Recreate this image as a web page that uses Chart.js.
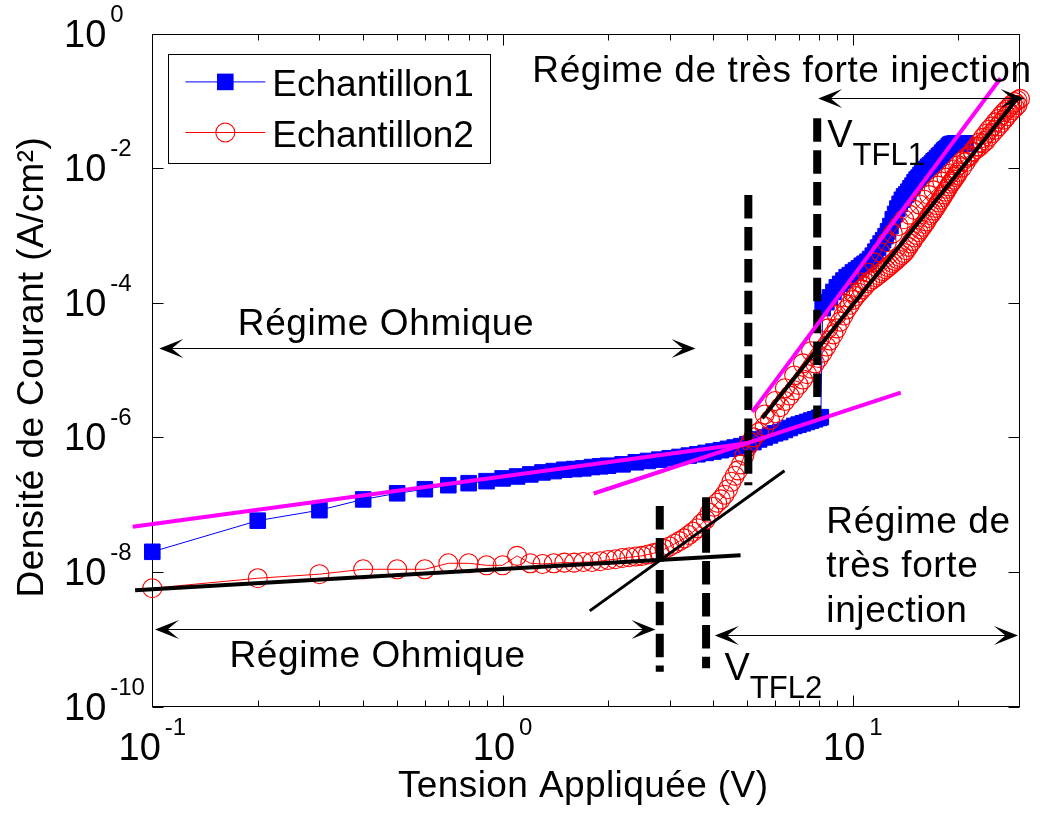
<!DOCTYPE html>
<html lang="fr">
<head>
<meta charset="utf-8">
<title>Densité de courant en fonction de la tension appliquée</title>
<script src="https://cdn.jsdelivr.net/npm/chart.js@4/dist/chart.umd.min.js"></script>
<style>
  html, body { margin: 0; padding: 0; background: #fff; }
  #wrap { width: 1040px; height: 814px; }
  canvas { display: block; }
</style>
</head>
<body>
<div id="wrap"><canvas id="jv" width="1040" height="814"></canvas></div>
<script>
// Echantillon1 : tension appliquée (V) et densité de courant (A/cm²)
const ech1V = [0.1, 0.2, 0.3, 0.4, 0.5, 0.6, 0.7, 0.8, 0.9, 1.0, 1.1, 1.2, 1.3, 1.4, 1.5, 1.6, 1.7, 1.8, 1.9, 2.0,
  2.2, 2.4, 2.6, 2.8, 3.0, 3.2, 3.4, 3.6, 3.8, 4.0, 4.2, 4.4, 4.6, 4.8, 5.0, 5.2, 5.4, 5.6, 5.8, 6.0,
  6.2, 6.4, 6.6, 6.8, 7.0, 7.2, 7.4, 7.6, 7.8, 8.0, 8.1,
  8.2, 8.4, 8.6, 8.8, 9.0, 9.2, 9.4, 9.6, 9.8, 10.0, 10.2, 10.4, 10.6, 10.8, 11.0,
  11.2, 11.4, 11.6, 11.8, 12.0, 12.2, 12.4, 12.6, 12.8, 13.0, 13.2, 13.4, 13.6, 13.8, 14.0,
  14.2, 14.4, 14.6, 14.8, 15.0, 15.2, 15.4, 15.6, 15.8, 16.0, 16.2, 16.4, 16.6, 16.8, 17.0,
  17.2, 17.4, 17.6, 17.8, 18.0, 18.2, 18.4, 18.6, 18.8, 19.0, 19.2, 19.4, 19.6, 19.8, 20.0,
  20.2, 20.4, 20.6, 20.8, 21.0];
const ech1J = [2.0e-8, 5.8e-8, 8.3e-8, 1.2e-7, 1.48e-7, 1.70e-7, 1.95e-7, 2.09e-7, 2.24e-7, 2.46e-7,
  2.63e-7, 2.82e-7, 3.02e-7, 3.16e-7, 3.31e-7, 3.39e-7, 3.47e-7, 3.63e-7, 3.72e-7, 3.80e-7,
  3.98e-7, 4.27e-7, 4.47e-7, 4.68e-7, 4.90e-7, 5.13e-7, 5.37e-7, 5.62e-7, 5.89e-7, 6.17e-7,
  6.46e-7, 6.76e-7, 7.08e-7, 7.41e-7, 7.94e-7, 8.51e-7, 9.33e-7, 1.0e-6, 1.07e-6, 1.15e-6,
  1.20e-6, 1.29e-6, 1.38e-6, 1.48e-6, 1.55e-6, 1.62e-6, 1.70e-6, 1.78e-6, 1.86e-6, 1.95e-6, 2.0e-6,
  8.32e-5, 1.02e-4, 1.20e-4, 1.45e-4, 1.70e-4, 1.91e-4, 2.14e-4, 2.40e-4, 2.57e-4, 2.82e-4,
  3.02e-4, 3.24e-4, 3.55e-4, 3.80e-4, 4.07e-4, 4.47e-4, 5.01e-4, 5.75e-4, 6.61e-4, 7.59e-4,
  8.51e-4, 9.77e-4, 1.15e-3, 1.38e-3, 1.74e-3, 2.09e-3, 2.51e-3, 2.95e-3, 3.39e-3, 3.80e-3,
  4.07e-3, 4.47e-3, 5.01e-3, 5.50e-3, 6.17e-3, 6.76e-3, 7.24e-3, 7.94e-3, 8.51e-3, 9.12e-3,
  9.77e-3, 1.05e-2, 1.10e-2, 1.17e-2, 1.26e-2, 1.32e-2, 1.41e-2, 1.51e-2, 1.58e-2, 1.70e-2,
  1.82e-2, 1.91e-2, 2.0e-2, 2.14e-2, 2.24e-2, 2.29e-2, 2.29e-2, 2.34e-2, 2.34e-2, 2.34e-2,
  2.34e-2, 2.34e-2, 2.34e-2, 2.34e-2, 2.34e-2];

// Echantillon2 : balayage aller jusqu'à 30 V puis retour
const ech2V = [0.1, 0.2, 0.3, 0.4, 0.5, 0.6, 0.7, 0.8, 0.9, 1.0, 1.1, 1.2, 1.3, 1.4, 1.5, 1.6, 1.7, 1.8, 1.9, 2.0,
  2.1, 2.2, 2.3, 2.4, 2.5, 2.6, 2.7, 2.8, 2.9, 3.0, 3.1, 3.2, 3.3, 3.4, 3.5, 3.6, 3.7, 3.8, 3.9, 4.0,
  4.1, 4.2, 4.3, 4.4, 4.5, 4.6, 4.7, 4.8, 4.9, 5.0, 5.1, 5.2,
  5.4, 5.6, 5.8, 6.0, 6.2, 6.4, 6.6, 6.8, 7.0, 7.2, 7.4, 7.6, 7.8, 8.0, 8.2, 8.4, 8.6, 8.8,
  9.0, 9.2, 9.4, 9.6, 9.8, 10.0, 10.2, 10.4, 10.6, 10.8, 11.0, 11.2, 11.4, 11.6, 11.8, 12.0,
  12.2, 12.4, 12.6, 12.8, 13.0, 13.2, 13.4, 13.6, 13.8, 14.0, 14.2, 14.4, 14.6, 14.8, 15.0,
  15.2, 15.4, 15.6, 15.8, 16.0, 16.2, 16.4, 16.6, 16.8, 17.0, 17.2, 17.4, 17.6, 17.8, 18.0,
  18.2, 18.4, 18.6, 18.8, 19.0, 19.2, 19.4, 19.6, 19.8, 20.0,
  20.5, 21.0, 21.5, 22.0, 22.5, 23.0, 23.5, 24.0, 24.5, 25.0, 25.5, 26.0, 26.5, 27.0, 27.5,
  28.0, 28.5, 29.0, 29.5, 30.0,
  29.5, 29.0, 28.5, 28.0, 27.5, 27.0, 26.5, 26.0, 25.5, 25.0, 24.5, 24.0, 23.5, 23.0, 22.5,
  22.0, 21.5, 21.0, 20.5, 20.0, 19.5, 19.0, 18.5, 18.0, 17.5, 17.0, 16.5, 16.0, 15.5, 15.0,
  14.5, 14.0, 13.5, 13.0, 12.5, 12.0, 11.5, 11.0, 10.5, 10.0, 9.5, 9.0, 8.5, 8.0,
  7.6, 7.2, 6.8, 6.4, 6.0, 5.6];
const ech2J = [5.75e-9, 8.1e-9, 9.3e-9, 1.10e-8, 1.10e-8, 1.10e-8, 1.35e-8, 1.35e-8, 1.26e-8, 1.26e-8,
  1.74e-8, 1.35e-8, 1.32e-8, 1.35e-8, 1.38e-8, 1.38e-8, 1.41e-8, 1.41e-8, 1.45e-8, 1.51e-8,
  1.55e-8, 1.62e-8, 1.66e-8, 1.70e-8, 1.74e-8, 1.82e-8, 1.91e-8, 2.0e-8, 2.19e-8, 2.40e-8,
  2.63e-8, 2.88e-8, 3.16e-8, 3.55e-8, 3.98e-8, 4.47e-8, 5.25e-8, 6.03e-8, 7.59e-8, 9.33e-8,
  1.07e-7, 1.20e-7, 1.41e-7, 1.70e-7, 2.19e-7, 2.69e-7, 3.24e-7, 3.98e-7, 5.37e-7, 7.08e-7, 8.51e-7, 1.0e-6,
  1.20e-6, 1.45e-6, 1.82e-6, 2.29e-6, 2.82e-6, 3.47e-6, 4.17e-6, 5.01e-6, 6.03e-6, 7.24e-6,
  8.71e-6, 1.05e-5, 1.26e-5, 1.51e-5, 1.82e-5, 2.24e-5, 2.75e-5, 3.39e-5,
  4.17e-5, 5.25e-5, 6.46e-5, 7.94e-5, 9.33e-5, 1.10e-4, 1.26e-4, 1.41e-4, 1.58e-4, 1.74e-4,
  1.95e-4, 2.09e-4, 2.24e-4, 2.40e-4, 2.57e-4, 2.75e-4, 2.95e-4, 3.16e-4, 3.39e-4, 3.63e-4,
  3.89e-4, 4.17e-4, 4.47e-4, 4.79e-4, 5.13e-4, 5.50e-4, 6.03e-4, 6.76e-4, 7.59e-4, 8.32e-4,
  9.33e-4, 1.02e-3, 1.12e-3, 1.23e-3, 1.35e-3, 1.48e-3, 1.62e-3, 1.82e-3, 2.0e-3, 2.14e-3,
  2.34e-3, 2.57e-3, 2.82e-3, 3.09e-3, 3.39e-3, 3.72e-3, 4.07e-3, 4.47e-3, 4.90e-3, 5.37e-3,
  5.89e-3, 6.31e-3, 6.76e-3, 7.41e-3, 7.94e-3, 8.71e-3,
  1.02e-2, 1.23e-2, 1.48e-2, 1.78e-2, 2.09e-2, 2.40e-2, 2.82e-2, 3.24e-2, 3.72e-2, 4.17e-2,
  4.79e-2, 5.37e-2, 6.03e-2, 6.76e-2, 7.41e-2, 8.13e-2, 8.91e-2, 9.55e-2, 0.102, 0.107,
  8.71e-2, 7.94e-2, 7.24e-2, 6.61e-2, 5.89e-2, 5.25e-2, 4.68e-2, 4.17e-2, 3.72e-2, 3.31e-2,
  2.95e-2, 2.57e-2, 2.34e-2, 2.09e-2, 1.91e-2, 1.74e-2, 1.55e-2, 1.41e-2, 1.26e-2, 1.10e-2,
  9.55e-3, 8.32e-3, 7.24e-3, 6.31e-3, 5.50e-3, 4.68e-3, 3.98e-3, 3.39e-3, 2.88e-3, 2.40e-3,
  2.04e-3, 1.74e-3, 1.38e-3, 1.07e-3, 7.94e-4, 5.62e-4, 3.98e-4, 2.82e-4, 2.0e-4, 1.41e-4,
  9.77e-5, 6.61e-5, 4.17e-5, 2.82e-5,
  1.91e-5, 1.26e-5, 8.32e-6, 5.37e-6, 3.47e-6, 2.19e-6];

// Droites d'ajustement : [V début, J début, V fin, J fin]
const fitOhm1 = [0.0879, 4.70e-8, 5.0, 8.22e-7];
const fitInj1 = [1.82, 1.47e-7, 13.7, 4.62e-6];
const fitTfl1 = [5.16, 2.40e-6, 26.4, 0.216];
const fitOhm2 = [0.0893, 5.38e-9, 4.78, 1.78e-8];
const fitInj2 = [1.773, 2.65e-9, 6.38, 3.19e-7];
const fitTfl2 = [5.51, 1.92e-6, 29.5, 0.109];

// Tensions de transition (traits verticaux) : [V, J haut, J bas]
const markInj1 = [5.03, 3.98e-3, 1.95e-7];
const markTfl1 = [7.91, 5.5e-2, 1.81e-6];
const markOhm2 = [2.81, 9.55e-8, 3.31e-10];
const markTfl2 = [3.81, 1.29e-7, 3.72e-10];

// Étendue des régimes (flèches doubles) : [V gauche, V droite, J]
const arrowOhm1 = [0.1047, 3.553, 2.10e-5];
const arrowOhm2 = [0.1018, 2.732, 1.45e-9];
const arrowInj2 = [4.035, 29.6, 1.15e-9];
const arrowInj1 = [7.96, 30.9, 0.111];

// Graduations principales (puissances de dix)
const yTickExponents = [0, -2, -4, -6, -8, -10];
const xTickExponents = [-1, 0, 1];

const FONT = '"Liberation Sans", Arial, Helvetica, sans-serif';

// Textes placés en coordonnées (V, J) : origine gauche, ligne de base
const notes = [
  { text: 'Régime Ohmique', v: 0.1755, j: 3.31e-5 },
  { text: 'Régime Ohmique', v: 0.1661, j: 3.90e-10 },
  { text: 'Régime de très forte injection', v: 1.216, j: 0.192 },
  { text: 'Régime de', v: 8.40, j: 3.75e-8 },
  { text: 'très forte', v: 8.40, j: 8.49e-9 },
  { text: 'injection', v: 8.40, j: 1.82e-9 }
];
const voltLabels = [
  { main: 'V', sub: 'TFL1', v: 8.45, j: 2.08e-2 },
  { main: 'V', sub: 'TFL2', v: 4.30, j: 2.48e-10 }
];

const pts = (vs, js) => vs.map((v, i) => ({ x: v, y: js[i] }));
const seg = a => [{ x: a[0], y: a[1] }, { x: a[2], y: a[3] }];
const vert = m => [{ x: m[0], y: m[1] }, { x: m[0], y: m[2] }];

function straight(data, color, width, order, dash) {
  return {
    data, borderColor: color, borderWidth: width, pointRadius: 0, pointHoverRadius: 0,
    borderDash: dash || [], borderCapStyle: 'butt', tension: 0, clip: false, order
  };
}
const DASH = [23.5, 8.4];

const datasets = [
  {
    label: 'Echantillon1', data: pts(ech1V, ech1J),
    borderColor: '#0000ff', borderWidth: 1, tension: 0, clip: false, order: 6,
    pointStyle: 'rect', pointRadius: 11, pointHoverRadius: 11,
    pointBackgroundColor: '#0000ff', pointBorderColor: '#0000ff', pointBorderWidth: 1
  },
  {
    label: 'Echantillon2', data: pts(ech2V, ech2J),
    borderColor: '#ff0000', borderWidth: 1, tension: 0, clip: false, order: 5,
    pointStyle: 'circle', pointRadius: 9.5, pointHoverRadius: 9.5,
    pointBackgroundColor: 'rgba(0,0,0,0)', pointBorderColor: '#ff0000', pointBorderWidth: 1.1
  },
  straight(vert(markInj1), '#000', 8, 3, DASH),
  straight(vert(markTfl1), '#000', 8, 3, DASH),
  straight(vert(markOhm2), '#000', 8, 3, DASH),
  straight(vert(markTfl2), '#000', 8, 3, DASH),
  straight(seg(fitOhm2), '#000', 4, 2),
  straight(seg(fitInj2), '#000', 3, 2),
  straight(seg(fitTfl2), '#000', 4, 2),
  straight(seg(fitOhm1), '#ff00ff', 4, 1),
  straight(seg(fitInj1), '#ff00ff', 4, 1),
  straight(seg(fitTfl1), '#ff00ff', 4, 1)
];

function arrowHead(ctx, x, y, dir) {
  ctx.beginPath();
  ctx.moveTo(x, y);
  ctx.lineTo(x - dir * 24, y - 9.5);
  ctx.lineTo(x - dir * 12.5, y);
  ctx.lineTo(x - dir * 24, y + 9.5);
  ctx.closePath();
  ctx.fill();
}

// Cadre, graduations intérieures et libellés en puissances de dix
const axesBox = {
  id: 'axesBox',
  beforeDatasetsDraw(chart) {
    const { ctx, chartArea: a, scales: { x, y } } = chart;
    const L = Math.round(a.left) + 0.5, R = Math.round(a.right) - 0.5;
    const T = Math.round(a.top) + 0.5, B = Math.round(a.bottom) - 0.5;
    ctx.save();
    ctx.strokeStyle = '#000';
    ctx.lineWidth = 1;
    ctx.strokeRect(L, T, R - L, B - T);
    ctx.beginPath();
    xTickExponents.forEach(e => {
      for (let m = 1; m <= 9; m++) {
        const v = m * Math.pow(10, e);
        if (v < x.min || v >= x.max) continue;
        const px = Math.round(x.getPixelForValue(v)) + 0.5;
        const len = m === 1 ? 11 : 6;
        ctx.moveTo(px, B); ctx.lineTo(px, B - len);
        ctx.moveTo(px, T); ctx.lineTo(px, T + len);
      }
    });
    yTickExponents.forEach(e => {
      const py = Math.round(y.getPixelForValue(Math.pow(10, e))) + 0.5;
      ctx.moveTo(L, py); ctx.lineTo(L + 11, py);
      ctx.moveTo(R, py); ctx.lineTo(R - 11, py);
    });
    ctx.stroke();

    ctx.fillStyle = '#000';
    ctx.textBaseline = 'alphabetic';
    ctx.textAlign = 'left';
    const big = '38px ' + FONT, small = '24px ' + FONT;
    yTickExponents.forEach(e => {
      const py = y.getPixelForValue(Math.pow(10, e));
      ctx.font = big;
      const w = ctx.measureText('10').width;
      ctx.fillText('10', 64, py + 13);
      ctx.font = small;
      ctx.fillText(String(e), 64 + w + 4, py - 12);
    });
    xTickExponents.forEach(e => {
      const px = x.getPixelForValue(Math.pow(10, e));
      ctx.font = big;
      const w = ctx.measureText('10').width;
      ctx.font = small;
      const we = ctx.measureText(String(e)).width;
      const left = px - (w + 4 + we) / 2;
      ctx.font = big;
      ctx.fillText('10', left, 760);
      ctx.font = small;
      ctx.fillText(String(e), left + w + 4, 735);
    });

    ctx.font = '37px ' + FONT;
    ctx.letterSpacing = '0.4px';
    ctx.textAlign = 'center';
    ctx.fillText('Tension Appliquée (V)', (a.left + a.right) / 2 - 3, 797);
    ctx.save();
    ctx.translate(43, (a.top + a.bottom) / 2 - 3);
    ctx.rotate(-Math.PI / 2);
    ctx.fillText('Densité de Courant (A/cm²)', 0, 0);
    ctx.restore();
    ctx.restore();
  },
  afterDatasetsDraw(chart) {
    const { ctx, chartArea: a, scales: { x, y } } = chart;
    ctx.save();
    ctx.strokeStyle = '#000';
    ctx.fillStyle = '#000';
    ctx.lineWidth = 1.2;
    [arrowOhm1, arrowOhm2, arrowInj2, arrowInj1].forEach(r => {
      const x1 = x.getPixelForValue(r[0]), x2 = x.getPixelForValue(r[1]);
      const py = Math.round(y.getPixelForValue(r[2])) + 0.5;
      ctx.beginPath(); ctx.moveTo(x1 + 6, py); ctx.lineTo(x2 - 6, py); ctx.stroke();
      arrowHead(ctx, x1, py, -1);
      arrowHead(ctx, x2, py, 1);
    });

    ctx.textAlign = 'left';
    ctx.textBaseline = 'alphabetic';
    ctx.font = '37px ' + FONT;
    ctx.letterSpacing = '0.6px';
    notes.forEach(n => ctx.fillText(n.text, x.getPixelForValue(n.v), y.getPixelForValue(n.j)));
    ctx.letterSpacing = '0px';
    voltLabels.forEach(l => {
      const px = x.getPixelForValue(l.v), py = y.getPixelForValue(l.j);
      ctx.font = '38px ' + FONT;
      const w = ctx.measureText(l.main).width;
      ctx.fillText(l.main, px, py);
      ctx.font = '31px ' + FONT;
      ctx.fillText(l.sub, px + w, py + 18.3);
    });

    // Légende
    const bx = a.left + 16, by = a.top + 20, bw = 322, bh = 109;
    ctx.fillStyle = '#fff';
    ctx.fillRect(bx, by, bw, bh);
    ctx.lineWidth = 1;
    ctx.strokeStyle = '#000';
    ctx.strokeRect(Math.round(bx) + 0.5, Math.round(by) + 0.5, bw, bh);
    chart.data.datasets.filter(d => d.label).forEach((d, i) => {
      const ly = by + 28.4 + i * 50.6;
      ctx.strokeStyle = d.borderColor;
      ctx.lineWidth = 1;
      ctx.beginPath(); ctx.moveTo(bx + 17, ly); ctx.lineTo(bx + 97, ly); ctx.stroke();
      ctx.beginPath();
      if (d.pointStyle === 'rect') {
        ctx.fillStyle = d.pointBackgroundColor;
        ctx.fillRect(bx + 57 - 8.3, ly - 8.3, 16.6, 16.6);
      } else {
        ctx.lineWidth = d.pointBorderWidth;
        ctx.strokeStyle = d.pointBorderColor;
        ctx.arc(bx + 57, ly, d.pointRadius, 0, Math.PI * 2);
        ctx.stroke();
      }
      ctx.fillStyle = '#000';
      ctx.font = '37px ' + FONT;
      ctx.fillText(d.label, bx + 104, ly + 14.3);
    });
    ctx.restore();
  }
};

new Chart(document.getElementById('jv'), {
  type: 'line',
  data: { datasets },
  options: {
    responsive: false,
    devicePixelRatio: 1,
    animation: false,
    events: [],
    layout: { padding: { left: 0, top: 33.5, right: 20, bottom: 0 } },
    plugins: { legend: { display: false }, tooltip: { enabled: false } },
    scales: {
      x: {
        type: 'logarithmic', min: 0.1, max: 30, bounds: 'data',
        ticks: { display: false }, grid: { display: false }, border: { display: false },
        afterFit: s => { s.height = 107.3; }
      },
      y: {
        type: 'logarithmic', min: 1e-10, max: 1, bounds: 'data',
        ticks: { display: false }, grid: { display: false }, border: { display: false },
        afterFit: s => { s.width = 152.3; }
      }
    }
  },
  plugins: [axesBox]
});
</script>
</body>
</html>
